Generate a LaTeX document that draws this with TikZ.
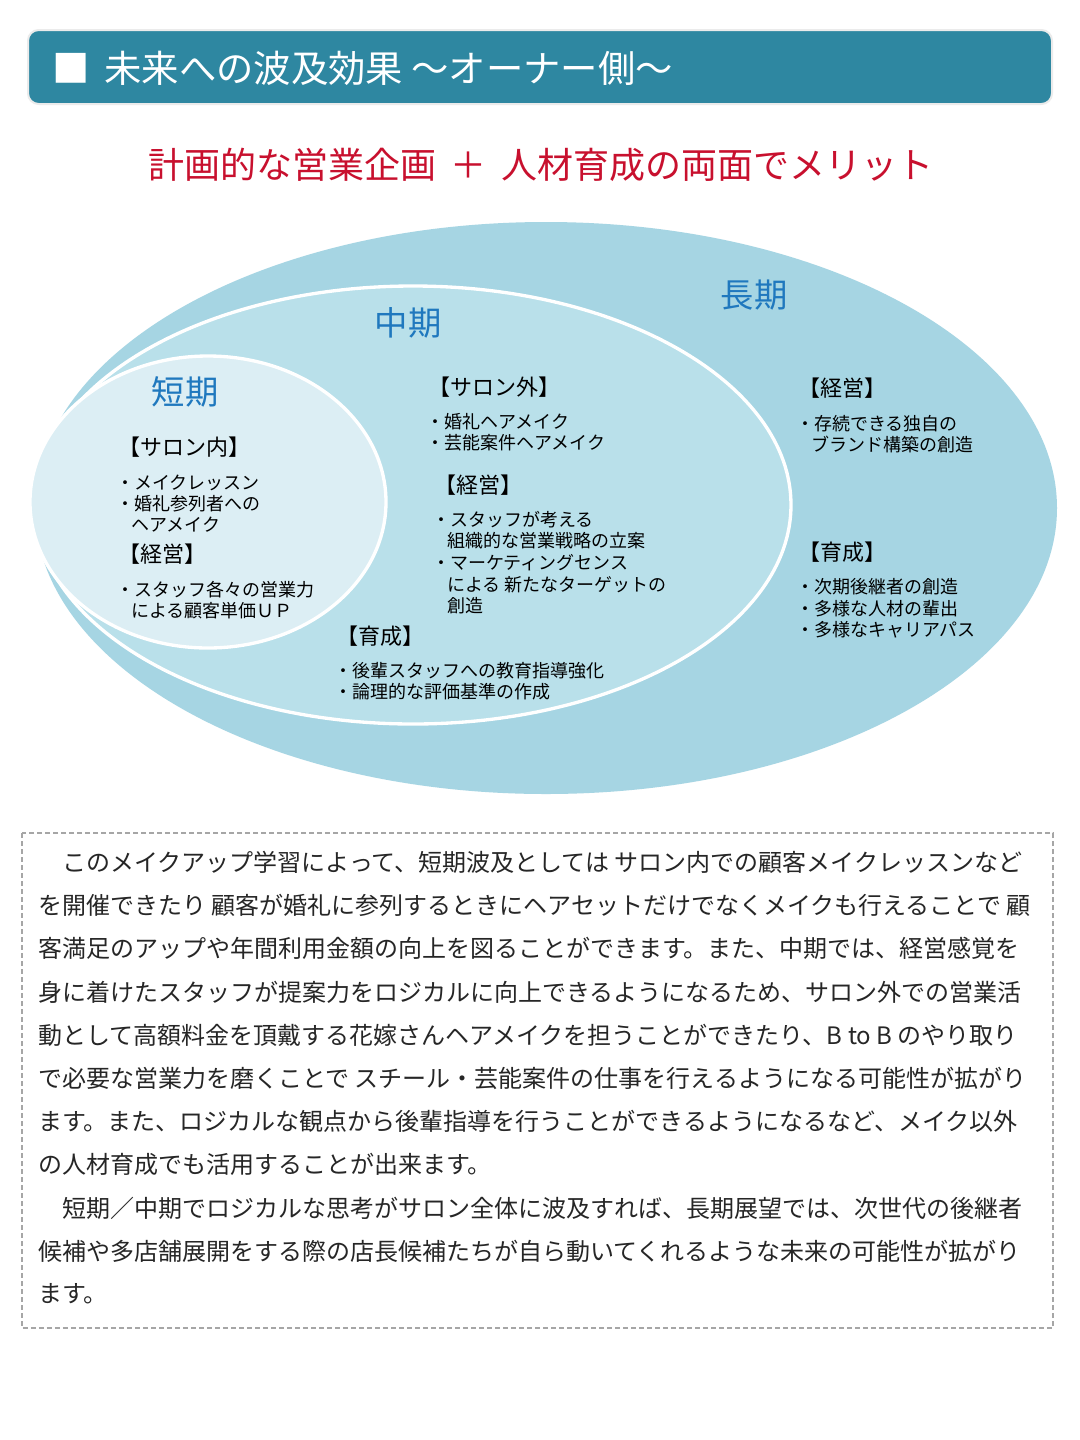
\documentclass[tikz,border=0pt]{standalone}
\usepackage{fontspec}
\setmainfont{Noto Sans CJK JP}
\begin{document}
\begin{tikzpicture}[x=0.75pt,y=-0.75pt,
 lbl/.style={anchor=west,font=\fontsize{13.5}{16}\selectfont,text=black,inner sep=0},
 hdr/.style={anchor=west,font=\fontsize{16.5}{18}\selectfont,text=black,inner sep=0},
 term/.style={font=\fontsize{25}{28}\selectfont,text=termblue,inner sep=0},
 para/.style={anchor=west,font=\fontsize{18}{20}\selectfont,text=black!85,inner sep=0}]
\definecolor{bar}{HTML}{2E87A1}
\definecolor{outer}{HTML}{A6D5E3}
\definecolor{mid}{HTML}{B9E0EA}
\definecolor{inner}{HTML}{DCEEF4}
\definecolor{termblue}{HTML}{1F78BE}
\definecolor{redt}{HTML}{C8102E}
\useasboundingbox (0,0) rectangle (1080,1440);
\fill[white] (0,0) rectangle (1080,1440);
% header
\draw[rounded corners=8pt,draw=black!8,line width=1.5pt,fill=bar] (28,30) rectangle (1052,104);
\node[anchor=west,text=white,font=\fontsize{28}{30}\selectfont,inner sep=0] (title) at (52,68) {■\hspace{0.4em}未来への波及効果 ～オーナー側～};
\node[text=redt,font=\fontsize{27}{30}\selectfont,inner sep=0] (sub) at (541,165) {計画的な営業企画 \,＋\, 人材育成の両面でメリット};
% ellipses
\fill[outer] (546,508) ellipse [x radius=511,y radius=286];
\draw[white,line width=2.5pt,fill=mid] (413,505) ellipse [x radius=378,y radius=219];
\draw[white,line width=2.5pt,fill=inner] (208,502) ellipse [x radius=178,y radius=146];
\node[term] (l) at (754,295) {長期};
\node[term] (m) at (408,323) {中期};
\node[term] (s) at (185,392) {短期};
% short
\node[hdr] (s1) at (118,447) {【サロン内】};
\node[lbl] at (116,483) {・メイクレッスン};
\node[lbl] at (116,504) {・婚礼参列者への};
\node[lbl] at (131,525) {ヘアメイク};
\node[hdr] (s2) at (118,554) {【経営】};
\node[lbl] at (116,590) {・スタッフ各々の営業力};
\node[lbl] at (131,611) {による顧客単価ＵＰ};
% mid
\node[hdr] (m1) at (428,387) {【サロン外】};
\node[lbl] at (426,422) {・婚礼ヘアメイク};
\node[lbl] at (426,443) {・芸能案件ヘアメイク};
\node[hdr] (m2) at (434,485) {【経営】};
\node[lbl] at (432,520) {・スタッフが考える};
\node[lbl] at (447,541) {組織的な営業戦略の立案};
\node[lbl] at (432,563) {・マーケティングセンス};
\node[lbl] at (447,585) {による 新たなターゲットの};
\node[lbl] at (447,606) {創造};
\node[hdr] (m3) at (336,636) {【育成】};
\node[lbl] at (334,671) {・後輩スタッフへの教育指導強化};
\node[lbl] at (334,692) {・論理的な評価基準の作成};
% long
\node[hdr] (g1) at (798,388) {【経営】};
\node[lbl] at (796,424) {・存続できる独自の};
\node[lbl] at (811,445) {ブランド構築の創造};
\node[hdr] (g2) at (798,552) {【育成】};
\node[lbl] at (796,587) {・次期後継者の創造};
\node[lbl] at (796,609) {・多様な人材の輩出};
\node[lbl] at (796,630) {・多様なキャリアパス};
% text box
\draw[black!35,line width=1.5pt,dash pattern=on 4pt off 2pt] (22,833) rectangle (1053,1328);
\node[para] at (38,862) {\hspace{1em}このメイクアップ学習によって、短期波及としては サロン内での顧客メイクレッスンなど};
\node[para] at (38,905) {を開催できたり 顧客が婚礼に参列するときにヘアセットだけでなくメイクも行えることで 顧};
\node[para] at (38,948) {客満足のアップや年間利用金額の向上を図ることができます。また、中期では、経営感覚を};
\node[para] at (38,992) {身に着けたスタッフが提案力をロジカルに向上できるようになるため、サロン外での営業活};
\node[para] at (38,1035) {動として高額料金を頂戴する花嫁さんヘアメイクを担うことができたり、B to B のやり取り};
\node[para] at (38,1078) {で必要な営業力を磨くことで スチール・芸能案件の仕事を行えるようになる可能性が拡がり};
\node[para] at (38,1121) {ます。また、ロジカルな観点から後輩指導を行うことができるようになるなど、メイク以外};
\node[para] at (38,1164) {の人材育成でも活用することが出来ます。};
\node[para] at (38,1208) {\hspace{1em}短期／中期でロジカルな思考がサロン全体に波及すれば、長期展望では、次世代の後継者};
\node[para] at (38,1251) {候補や多店舗展開をする際の店長候補たちが自ら動いてくれるような未来の可能性が拡がり};
\node[para] at (38,1294) {ます。};
\end{tikzpicture}
\end{document}
